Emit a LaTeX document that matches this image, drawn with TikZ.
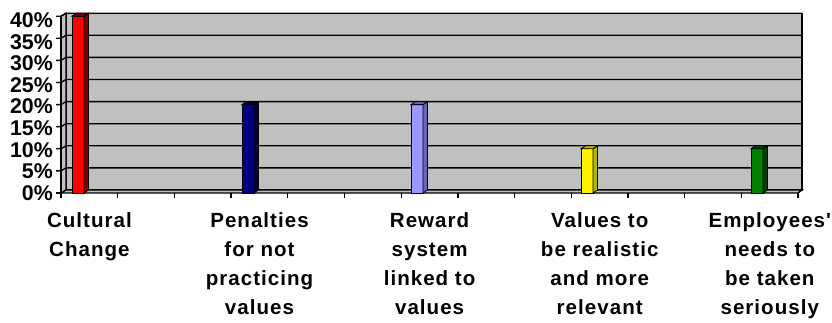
\documentclass[tikz,border=0pt]{standalone}
\usepackage{fontspec}
\setmainfont{Liberation Sans}
\newfontfamily\catfont[LetterSpace=5]{Liberation Sans}
\usepackage{tikz}

\definecolor{wallgray}{RGB}{192,192,192}
\definecolor{redside}{RGB}{128,0,0}
\definecolor{navy}{RGB}{0,0,128}
\definecolor{navyside}{RGB}{0,0,64}
\definecolor{lilac}{RGB}{153,153,255}
\definecolor{lilacside}{RGB}{102,102,179}
\definecolor{yellowside}{RGB}{179,179,0}
\definecolor{leaf}{RGB}{0,128,0}
\definecolor{leafside}{RGB}{0,64,0}

\tikzset{
  wall/.style={fill=wallgray, draw=black, line width=1pt},
  grid/.style={draw=black, line width=1pt},
  barface/.style={draw=black, line width=0.6pt},
  ylab/.style={anchor=east, inner sep=0pt, font=\fontsize{16}{16}\selectfont\bfseries},
  catlab/.style={anchor=north, inner sep=0pt, align=center,
    font=\catfont\fontsize{15.4}{21.75}\selectfont\bfseries}
}

\begin{document}
\begin{tikzpicture}[x=0.75pt,y=-0.75pt]
\useasboundingbox (0,0) rectangle (832,322);

\coordinate (F0) at (61,193);
\coordinate (F1) at (798,193);
\coordinate (B0) at (66,190);
\coordinate (B1) at (802,190);
\coordinate (T0) at (66,13.2);
\coordinate (T1) at (802,13.2);
\coordinate (A0) at (61,16.2);

% walls and floor
\draw[wall] (B0) -- (B1) -- (T1) -- (T0) -- cycle;
\draw[wall] (F0) -- (B0) -- (T0) -- (A0) -- cycle;
\draw[wall] (F0) -- (F1) -- (B1) -- (B0) -- cycle;

% gridlines with axis ticks
\draw[grid] (56,193) -- (F0);
\draw[grid] (56,170.9) -- (61,170.9) -- (66,167.9) -- (802,167.9);
\draw[grid] (56,148.8) -- (61,148.8) -- (66,145.8) -- (802,145.8);
\draw[grid] (56,126.7) -- (61,126.7) -- (66,123.7) -- (802,123.7);
\draw[grid] (56,104.6) -- (61,104.6) -- (66,101.6) -- (802,101.6);
\draw[grid] (56,82.5) -- (61,82.5) -- (66,79.5) -- (802,79.5);
\draw[grid] (56,60.4) -- (61,60.4) -- (66,57.4) -- (802,57.4);
\draw[grid] (56,38.3) -- (61,38.3) -- (66,35.3) -- (802,35.3);
\draw[grid] (56,16.2) -- (A0) -- (T0) -- (T1);
\draw[grid] (A0) -- (F0);

\draw[grid] (61,193) -- ++(0,5) (117.7,193) -- ++(0,5) (174.4,193) -- ++(0,5)
  (231.1,193) -- ++(0,5) (287.8,193) -- ++(0,5) (344.5,193) -- ++(0,5)
  (401.2,193) -- ++(0,5) (457.9,193) -- ++(0,5) (514.6,193) -- ++(0,5)
  (571.3,193) -- ++(0,5) (628,193) -- ++(0,5) (684.7,193) -- ++(0,5)
  (741.4,193) -- ++(0,5) (798.1,193) -- ++(0,5);

% bars
\filldraw[barface, fill=red] (72,193) rectangle (84,16.2);
\filldraw[barface, fill=redside] (84,193) -- (88.5,190) -- (88.5,13.2) -- (84,16.2) -- cycle;
\filldraw[barface, fill=redside] (72,16.2) -- (76.5,13.2) -- (88.5,13.2) -- (84,16.2) -- cycle;

\filldraw[barface, fill=navy] (242,193) rectangle (254,104.6);
\filldraw[barface, fill=navyside] (254,193) -- (258.5,190) -- (258.5,101.6) -- (254,104.6) -- cycle;
\filldraw[barface, fill=navyside] (242,104.6) -- (246.5,101.6) -- (258.5,101.6) -- (254,104.6) -- cycle;

\filldraw[barface, fill=lilac] (411,193) rectangle (423,104.6);
\filldraw[barface, fill=lilacside] (423,193) -- (427.5,190) -- (427.5,101.6) -- (423,104.6) -- cycle;
\filldraw[barface, fill=lilacside] (411,104.6) -- (415.5,101.6) -- (427.5,101.6) -- (423,104.6) -- cycle;

\filldraw[barface, fill=yellow] (581,193) rectangle (593,148.8);
\filldraw[barface, fill=yellowside] (593,193) -- (597.5,190) -- (597.5,145.8) -- (593,148.8) -- cycle;
\filldraw[barface, fill=yellowside] (581,148.8) -- (585.5,145.8) -- (597.5,145.8) -- (593,148.8) -- cycle;

\filldraw[barface, fill=leaf] (751,193) rectangle (763,148.8);
\filldraw[barface, fill=leafside] (763,193) -- (767.5,190) -- (767.5,145.8) -- (763,148.8) -- cycle;
\filldraw[barface, fill=leafside] (751,148.8) -- (755.5,145.8) -- (767.5,145.8) -- (763,148.8) -- cycle;

% axis labels
\node[ylab] (Y0) at (53,193) {0\%};
\node[ylab] (Y1) at (53,171.4) {5\%};
\node[ylab] (Y2) at (53,149.8) {10\%};
\node[ylab] (Y3) at (53,128.2) {15\%};
\node[ylab] (Y4) at (53,106.6) {20\%};
\node[ylab] (Y5) at (53,85) {25\%};
\node[ylab] (Y6) at (53,63.4) {30\%};
\node[ylab] (Y7) at (53,41.8) {35\%};
\node[ylab] (Y8) at (53,20.2) {40\%};

\node[catlab] (L1) at (89.4,212) {Cultural\\Change};
\node[catlab] (L2) at (259.5,212) {Penalties\\for not\\practicing\\values};
\node[catlab] (L3) at (429.6,212) {Reward\\system\\linked to\\values};
\node[catlab] (L4) at (599.7,212) {Values to\\be realistic\\and more\\relevant};
\node[catlab] (L5) at (769.8,212) {Employees'\\needs to\\be taken\\seriously};

\end{tikzpicture}
\end{document}
